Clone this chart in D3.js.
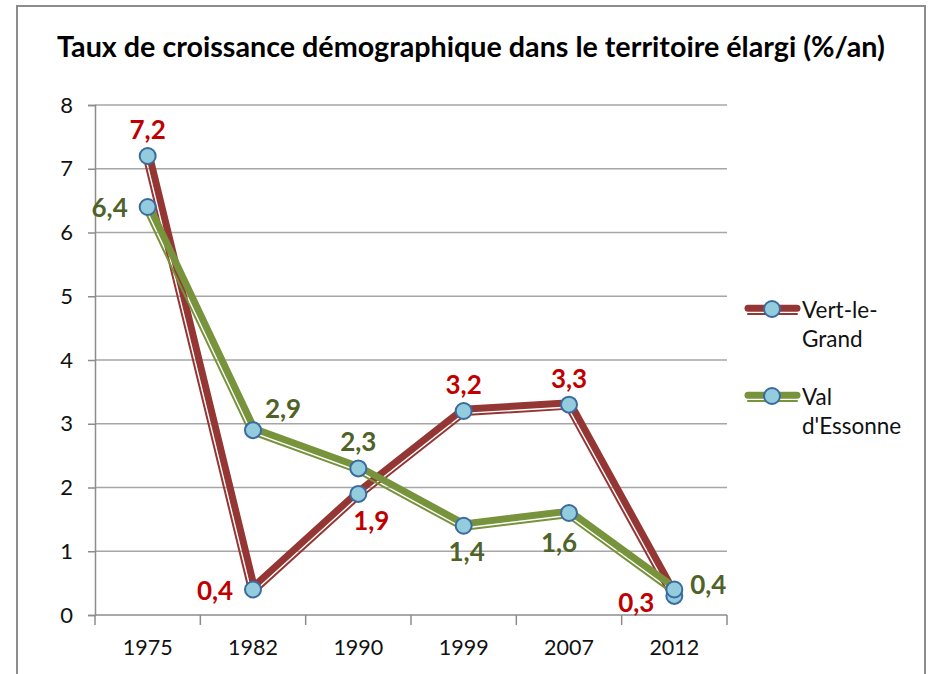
<!DOCTYPE html>
<html>
<head>
<meta charset="utf-8">
<script src="https://cdn.jsdelivr.net/npm/d3@7"></script>
<style>
  html, body { margin: 0; padding: 0; background: #fff; }
  svg { display: block; }
  text { font-family: Lato, "Open Sans", sans-serif; }
</style>
</head>
<body>
<svg id="chart" width="929" height="674"></svg>
<script>
// Taux de croissance démographique (%/an) par période
const years = ["1975", "1982", "1990", "1999", "2007", "2012"];
const vertLeGrand = [7.2, 0.4, 1.9, 3.2, 3.3, 0.3];
const valEssonne = [6.4, 2.9, 2.3, 1.4, 1.6, 0.4];
const seriesNames = ["Vert-le-Grand", "Val d'Essonne"];
const yTickValues = [0, 1, 2, 3, 4, 5, 6, 7, 8];
const titleText = "Taux de croissance démographique dans le territoire élargi (%/an)";

// where each data label sits relative to its point
const vertLabelPos = ["top", "left", "bottomRight", "top", "top", "leftLow"];
const valLabelPos = ["left", "topRight", "top", "bottom", "bottomLeft", "rightHigh"];

const labelOffsets = {
  top: [0, -27],
  bottom: [3, 25],
  left: [-38, 0],
  leftLow: [-38, 6],
  bottomRight: [13, 26],
  bottomLeft: [-10, 29],
  topRight: [30, -22],
  rightHigh: [34, -6]
};

const svg = d3.select("#chart");

// outer frame
svg.append("rect")
  .attr("x", 17).attr("y", 6)
  .attr("width", 908).attr("height", 680)
  .attr("fill", "#fff")
  .attr("stroke", "#8c8c8c")
  .attr("stroke-width", 2);

// title, sized to span the frame
const title = svg.append("text")
  .attr("x", 471).attr("y", 57)
  .attr("text-anchor", "middle")
  .attr("font-weight", "bold")
  .attr("font-size", 22)
  .attr("fill", "#000")
  .text(titleText);
const tw = title.node().getComputedTextLength();
title.attr("font-size", 22 * 828 / tw);

const x = d3.scaleBand().domain(years).range([95, 727]);
const cx = d => x(d) + x.bandwidth() / 2;
const y = d3.scaleLinear().domain([0, 8]).range([615, 105]);

// horizontal gridlines
svg.append("g")
  .selectAll("line")
  .data(yTickValues.filter(v => v > 0))
  .join("line")
  .attr("x1", 95).attr("x2", 727)
  .attr("y1", d => y(d)).attr("y2", d => y(d))
  .attr("stroke", "#a6a6a6")
  .attr("stroke-width", 1.5);

// y axis
const yAxis = svg.append("g")
  .attr("transform", "translate(95,0)")
  .call(d3.axisLeft(y).tickValues(yTickValues).tickSize(7).tickPadding(15).tickFormat(d3.format("d")));
yAxis.select(".domain").attr("stroke", "#8c8c8c").attr("stroke-width", 1.5);
yAxis.selectAll(".tick line").attr("stroke", "#8c8c8c").attr("stroke-width", 1.5);
yAxis.selectAll(".tick text")
  .attr("font-size", 22)
  .attr("font-family", "Lato, sans-serif")
  .attr("fill", "#111");

// x axis: boundary ticks plus centred labels
const xAxis = svg.append("g").attr("transform", "translate(0,615)");
xAxis.append("line")
  .attr("x1", 95).attr("x2", 727)
  .attr("stroke", "#8c8c8c").attr("stroke-width", 1.5);
const bounds = years.map(d => x(d)).concat([x(years[years.length - 1]) + x.bandwidth()]);
xAxis.selectAll("line.bt")
  .data(bounds)
  .join("line")
  .attr("class", "bt")
  .attr("x1", d => d).attr("x2", d => d)
  .attr("y1", 0).attr("y2", 10)
  .attr("stroke", "#8c8c8c").attr("stroke-width", 1.5);
xAxis.selectAll("text")
  .data(years)
  .join("text")
  .attr("x", d => cx(d))
  .attr("y", 40)
  .attr("text-anchor", "middle")
  .attr("font-size", 21.5)
  .attr("fill", "#111")
  .text(d => d);

// offset a polyline sideways (positive = right of travel direction)
function offsetPolyline(pts, dist) {
  const n = pts.length;
  const normals = [];
  for (let i = 0; i < n - 1; i++) {
    const dx = pts[i + 1][0] - pts[i][0], dy = pts[i + 1][1] - pts[i][1];
    const len = Math.hypot(dx, dy);
    normals.push([-dy / len, dx / len]);
  }
  return pts.map((p, i) => {
    if (i === 0) return [p[0] + normals[0][0] * dist, p[1] + normals[0][1] * dist];
    if (i === n - 1) return [p[0] + normals[n - 2][0] * dist, p[1] + normals[n - 2][1] * dist];
    const a = normals[i - 1], b = normals[i];
    const dot = a[0] * b[0] + a[1] * b[1];
    const k = dist / (1 + dot);
    return [p[0] + (a[0] + b[0]) * k, p[1] + (a[1] + b[1]) * k];
  });
}

const lineGen = d3.line();

// thick-thin compound stroke
function drawCompound(g, pts, color) {
  g.append("path")
    .attr("d", lineGen(offsetPolyline(pts, -1.8)))
    .attr("fill", "none").attr("stroke", color)
    .attr("stroke-width", 7).attr("stroke-linejoin", "round").attr("stroke-linecap", "round");
  g.append("path")
    .attr("d", lineGen(offsetPolyline(pts, 4.1)))
    .attr("fill", "none").attr("stroke", color)
    .attr("stroke-width", 2).attr("stroke-linejoin", "round").attr("stroke-linecap", "round");
}

function drawMarker(g, px, py) {
  g.append("circle")
    .attr("cx", px).attr("cy", py).attr("r", 8)
    .attr("fill", "#93cddd")
    .attr("stroke", "#3a6aa0")
    .attr("stroke-width", 2);
}

const series = [
  { name: seriesNames[0], values: vertLeGrand, color: "#943634", labelColor: "#c00000", pos: vertLabelPos },
  { name: seriesNames[1], values: valEssonne, color: "#77933c", labelColor: "#4f6228", pos: valLabelPos }
];

const fmt = v => d3.format(".1f")(v).replace(".", ",");

series.forEach(s => {
  const g = svg.append("g");
  const pts = s.values.map((v, i) => [cx(years[i]), y(v)]);
  drawCompound(g, pts, s.color);
  pts.forEach(p => drawMarker(g, p[0], p[1]));
});

// data labels
series.forEach(s => {
  svg.append("g")
    .selectAll("text")
    .data(s.values)
    .join("text")
    .attr("x", (v, i) => cx(years[i]) + labelOffsets[s.pos[i]][0])
    .attr("y", (v, i) => y(v) + labelOffsets[s.pos[i]][1])
    .attr("text-anchor", "middle")
    .attr("dominant-baseline", "central")
    .attr("font-weight", "bold")
    .attr("font-size", 26)
    .attr("fill", s.labelColor)
    .text(v => fmt(v));
});

// legend
const legendRows = [
  { lines: ["Vert-le-", "Grand"], y: 309 },
  { lines: ["Val", "d'Essonne"], y: 396 }
];
legendRows.forEach((row, i) => {
  const g = svg.append("g");
  drawCompound(g, [[748, row.y + 1], [797, row.y + 1]], series[i].color);
  drawMarker(g, 772, row.y);
  g.selectAll("text")
    .data(row.lines)
    .join("text")
    .attr("x", 802)
    .attr("y", (d, j) => row.y + j * 29.5)
    .attr("dominant-baseline", "central")
    .attr("font-size", 22.5)
    .attr("fill", "#111")
    .text(d => d);
});
</script>
</body>
</html>
